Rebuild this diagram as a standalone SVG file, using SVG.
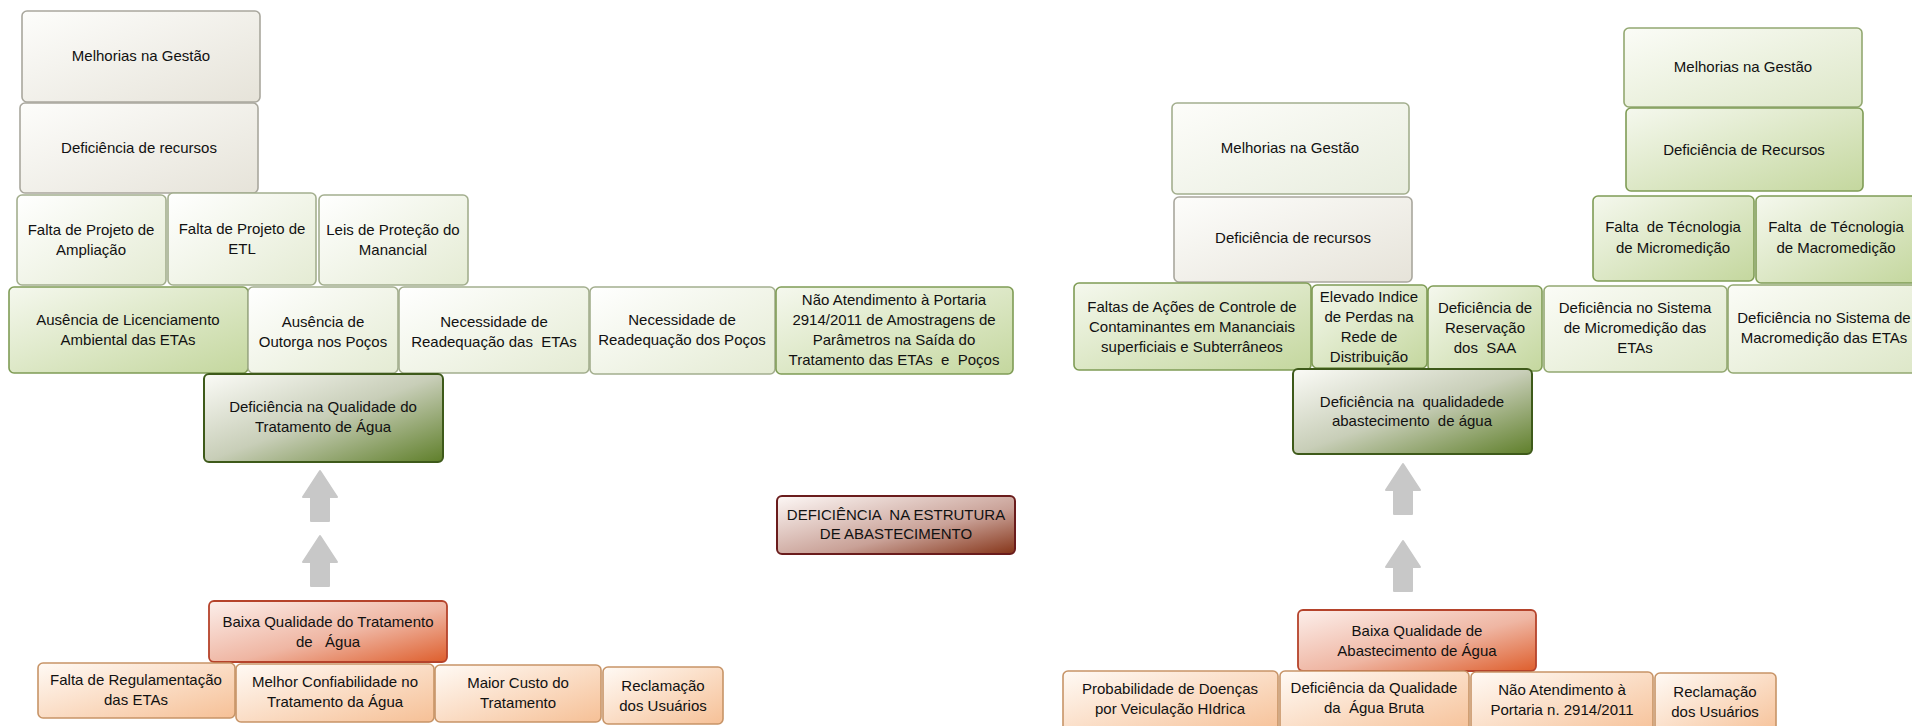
<svg xmlns="http://www.w3.org/2000/svg" width="1912" height="726" viewBox="0 0 1912 726">
  <defs>
    <linearGradient id="gGrey" x1="0" y1="0" x2="1" y2="1">
      <stop offset="0" stop-color="#fdfdfb"/>
      <stop offset="1" stop-color="#e6e3d9"/>
    </linearGradient>
    <linearGradient id="gPale" x1="0" y1="0" x2="1" y2="1">
      <stop offset="0" stop-color="#ffffff"/>
      <stop offset="1" stop-color="#e4ebd3"/>
    </linearGradient>
    <linearGradient id="gPaleGreen" x1="0" y1="0" x2="1" y2="1">
      <stop offset="0" stop-color="#fbfcf7"/>
      <stop offset="1" stop-color="#dde7c8"/>
    </linearGradient>
    <linearGradient id="gMist" x1="0" y1="0" x2="1" y2="1">
      <stop offset="0" stop-color="#fdfdfa"/>
      <stop offset="1" stop-color="#e8edde"/>
    </linearGradient>
    <linearGradient id="gGreen" x1="0" y1="0" x2="1" y2="1">
      <stop offset="0" stop-color="#f5f8ee"/>
      <stop offset="1" stop-color="#c4d79e"/>
    </linearGradient>
    <linearGradient id="gDark" x1="0" y1="0" x2="1" y2="1">
      <stop offset="0" stop-color="#fbfbf7"/>
      <stop offset="0.5" stop-color="#c8ceb8"/>
      <stop offset="1" stop-color="#5f7f2a"/>
    </linearGradient>
    <linearGradient id="gRed" x1="0" y1="0" x2="1" y2="1">
      <stop offset="0" stop-color="#fcefeb"/>
      <stop offset="0.55" stop-color="#efb6a3"/>
      <stop offset="1" stop-color="#de5e2c"/>
    </linearGradient>
    <linearGradient id="gOrange" x1="0" y1="0" x2="1" y2="1">
      <stop offset="0" stop-color="#fffaf5"/>
      <stop offset="1" stop-color="#f6c096"/>
    </linearGradient>
    <linearGradient id="gBrown" x1="0" y1="0" x2="1" y2="1">
      <stop offset="0" stop-color="#fdf8f6"/>
      <stop offset="0.6" stop-color="#c9a197"/>
      <stop offset="1" stop-color="#853418"/>
    </linearGradient>
    <!-- upward block arrow, tip at origin -->
    <path id="upArrow" d="M0,0 L17,26 L9,26 L9,50 L-9,50 L-9,26 L-17,26 Z"/>
  </defs>
  <style>
    rect { rx: 5px; ry: 5px; stroke-width: 1.6; }
    .grey rect { fill: url(#gGrey); stroke: #a9a79d; }
    .pale rect { fill: url(#gPale); stroke: #a3ae8e; }
    .mist rect { fill: url(#gMist); stroke: #a3ae8e; }
    .paleg rect { fill: url(#gPaleGreen); stroke: #93a871; }
    .green rect { fill: url(#gGreen); stroke: #7f9c55; }
    .dark rect { fill: url(#gDark); stroke: #3e5a1a; stroke-width: 2; }
    .red rect { fill: url(#gRed); stroke: #b5432b; stroke-width: 1.8; }
    .orange rect { fill: url(#gOrange); stroke: #c79467; }
    .brown rect { fill: url(#gBrown); stroke: #6a1c1c; stroke-width: 2; }
    text { font-family: "Liberation Sans", Arial, sans-serif; font-size: 15px; fill: #111; text-anchor: middle; white-space: pre; }
    .arrow { fill: #c8c8c8; stroke: #c8c8c8; stroke-width: 2; stroke-linejoin: round; }
  </style>

  <!-- connectors: block arrows -->
  <g id="connectors">
    <use href="#upArrow" class="arrow" transform="translate(320,471)"/>
    <use href="#upArrow" class="arrow" transform="translate(320,536)"/>
    <use href="#upArrow" class="arrow" transform="translate(1403,464)"/>
    <use href="#upArrow" class="arrow" transform="translate(1403,541)"/>
  </g>

  <!-- left tree: water treatment -->
  <g id="l_melhorias" class="grey"><rect x="22" y="11" width="238" height="91"/><text x="141" y="61">Melhorias na Gestão</text></g>
  <g id="l_recursos" class="grey"><rect x="20" y="103" width="238" height="90"/><text x="139" y="153">Deficiência de recursos</text></g>
  <g id="l_ampliacao" class="pale"><rect x="17" y="195" width="149" height="90"/><text x="91" y="235">Falta de Projeto de</text><text x="91" y="255">Ampliação</text></g>
  <g id="l_etl" class="pale"><rect x="168" y="193" width="148" height="92"/><text x="242" y="234">Falta de Projeto de</text><text x="242" y="254">ETL</text></g>
  <g id="l_leis" class="pale"><rect x="319" y="195" width="149" height="90"/><text x="393" y="235">Leis de Proteção do</text><text x="393" y="255">Manancial</text></g>
  <g id="l_licenciamento" class="green"><rect x="9" y="287" width="239" height="86"/><text x="128" y="325">Ausência de Licenciamento</text><text x="128" y="345">Ambiental das ETAs</text></g>
  <g id="l_outorga" class="pale"><rect x="248" y="287" width="150" height="86"/><text x="323" y="327">Ausência de</text><text x="323" y="347">Outorga nos Poços</text></g>
  <g id="l_readeq_etas" class="pale"><rect x="399" y="287" width="190" height="86"/><text x="494" y="327">Necessidade de</text><text x="494" y="347">Readequação das  ETAs</text></g>
  <g id="l_readeq_pocos" class="pale"><rect x="590" y="287" width="185" height="87"/><text x="682" y="325">Necessidade de</text><text x="682" y="345">Readequação dos Poços</text></g>
  <g id="l_portaria" class="green"><rect x="776" y="287" width="237" height="87"/><text x="894" y="305">Não Atendimento à Portaria</text><text x="894" y="325">2914/2011 de Amostragens de</text><text x="894" y="345">Parâmetros na Saída do</text><text x="894" y="365">Tratamento das ETAs  e  Poços</text></g>
  <g id="l_def_qualidade" class="dark"><rect x="204" y="374" width="239" height="88"/><text x="323" y="412">Deficiência na Qualidade do</text><text x="323" y="432">Tratamento de Água</text></g>
  <g id="l_baixa" class="red"><rect x="209" y="601" width="238" height="61"/><text x="328" y="627">Baixa Qualidade do Tratamento</text><text x="328" y="647">de   Água</text></g>
  <g id="l_regulamentacao" class="orange"><rect x="38" y="663" width="197" height="55"/><text x="136" y="685">Falta de Regulamentação</text><text x="136" y="705">das ETAs</text></g>
  <g id="l_confiabilidade" class="orange"><rect x="236" y="664" width="198" height="58"/><text x="335" y="687">Melhor Confiabilidade no</text><text x="335" y="707">Tratamento da Água</text></g>
  <g id="l_custo" class="orange"><rect x="435" y="665" width="166" height="57"/><text x="518" y="688">Maior Custo do</text><text x="518" y="708">Tratamento</text></g>
  <g id="l_reclamacao" class="orange"><rect x="603" y="667" width="120" height="57"/><text x="663" y="691">Reclamação</text><text x="663" y="711">dos Usuários</text></g>

  <!-- central title -->
  <g id="estrutura" class="brown"><rect x="777" y="496" width="238" height="58"/><text x="896" y="520">DEFICIÊNCIA  NA ESTRUTURA</text><text x="896" y="539">DE ABASTECIMENTO</text></g>

  <!-- right tree: water supply -->
  <g id="m_melhorias" class="mist"><rect x="1172" y="103" width="237" height="91"/><text x="1290" y="153">Melhorias na Gestão</text></g>
  <g id="m_recursos" class="grey"><rect x="1174" y="197" width="238" height="85"/><text x="1293" y="243">Deficiência de recursos</text></g>
  <g id="r_melhorias" class="paleg"><rect x="1624" y="28" width="238" height="79"/><text x="1743" y="72">Melhorias na Gestão</text></g>
  <g id="r_recursos" class="green"><rect x="1626" y="108" width="237" height="83"/><text x="1744" y="155">Deficiência de Recursos</text></g>
  <g id="r_tec_micro" class="green"><rect x="1593" y="196" width="161" height="85"/><text x="1673" y="232">Falta  de Técnologia</text><text x="1673" y="253">de Micromedição</text></g>
  <g id="r_tec_macro" class="green"><rect x="1756" y="196" width="162" height="87"/><text x="1836" y="232">Falta  de Técnologia</text><text x="1836" y="253">de Macromedição</text></g>
  <g id="r_acoes" class="green"><rect x="1074" y="283" width="237" height="87"/><text x="1192" y="312">Faltas de Ações de Controle de</text><text x="1192" y="332">Contaminantes em Mananciais</text><text x="1192" y="352">superficiais e Subterrâneos</text></g>
  <g id="r_perdas" class="green"><rect x="1312" y="285" width="115" height="83"/><text x="1369" y="302">Elevado Indice</text><text x="1369" y="322">de Perdas na</text><text x="1369" y="342">Rede de</text><text x="1369" y="362">Distribuição</text></g>
  <g id="r_reservacao" class="green"><rect x="1428" y="286" width="114" height="85"/><text x="1485" y="313">Deficiência de</text><text x="1485" y="333">Reservação</text><text x="1485" y="353">dos  SAA</text></g>
  <g id="r_sis_micro" class="paleg"><rect x="1544" y="286" width="183" height="86"/><text x="1635" y="313">Deficiência no Sistema</text><text x="1635" y="333">de Micromedição das</text><text x="1635" y="353">ETAs</text></g>
  <g id="r_sis_macro" class="paleg"><rect x="1728" y="285" width="190" height="88"/><text x="1824" y="323">Deficiência no Sistema de</text><text x="1824" y="343">Macromedição das ETAs</text></g>
  <g id="r_def_qualidade" class="dark"><rect x="1293" y="369" width="239" height="85"/><text x="1412" y="407">Deficiência na  qualidadede</text><text x="1412" y="426">abastecimento  de água</text></g>
  <g id="r_baixa" class="red"><rect x="1298" y="610" width="238" height="61"/><text x="1417" y="636">Baixa Qualidade de</text><text x="1417" y="656">Abastecimento de Água</text></g>
  <g id="r_doencas" class="orange"><rect x="1063" y="671" width="215" height="64"/><text x="1170" y="694">Probabilidade de Doenças</text><text x="1170" y="714">por Veiculação HIdrica</text></g>
  <g id="r_agua_bruta" class="orange"><rect x="1280" y="671" width="189" height="64"/><text x="1374" y="693">Deficiência da Qualidade</text><text x="1374" y="713">da  Água Bruta</text></g>
  <g id="r_portaria" class="orange"><rect x="1471" y="672" width="182" height="64"/><text x="1562" y="695">Não Atendimento à</text><text x="1562" y="715">Portaria n. 2914/2011</text></g>
  <g id="r_reclamacao" class="orange"><rect x="1655" y="673" width="121" height="64"/><text x="1715" y="697">Reclamação</text><text x="1715" y="717">dos Usuários</text></g>
</svg>
